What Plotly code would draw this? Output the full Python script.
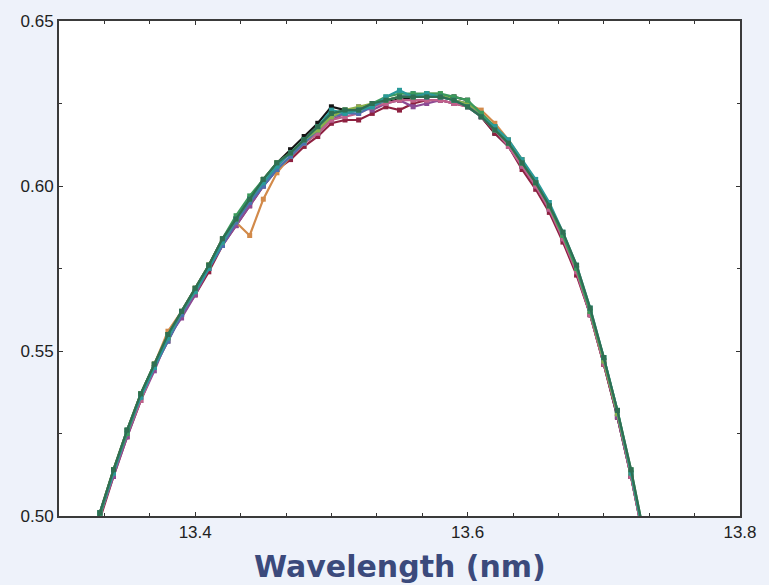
import plotly.graph_objects as go

wavelength = [13.32, 13.33, 13.34, 13.35, 13.36, 13.37, 13.38, 13.39, 13.40, 13.41,
              13.42, 13.43, 13.44, 13.45, 13.46, 13.47, 13.48, 13.49, 13.50, 13.51,
              13.52, 13.53, 13.54, 13.55, 13.56, 13.57, 13.58, 13.59, 13.60, 13.61,
              13.62, 13.63, 13.64, 13.65, 13.66, 13.67, 13.68, 13.69, 13.70, 13.71,
              13.72, 13.73, 13.74]

r_black = [0.488, 0.501, 0.514, 0.526, 0.537, 0.546, 0.555, 0.562, 0.569, 0.576,
           0.584, 0.590, 0.596, 0.602, 0.607, 0.611, 0.615, 0.619, 0.624, 0.623,
           0.623, 0.625, 0.626, 0.626, 0.627, 0.628, 0.627, 0.627, 0.626, 0.621,
           0.616, 0.612, 0.606, 0.600, 0.593, 0.584, 0.574, 0.561, 0.546, 0.530,
           0.512, 0.492, 0.471]
r_maroon = [0.486, 0.499, 0.512, 0.524, 0.535, 0.545, 0.553, 0.561, 0.567, 0.574,
            0.582, 0.588, 0.594, 0.600, 0.605, 0.608, 0.612, 0.615, 0.619, 0.620,
            0.620, 0.622, 0.624, 0.623, 0.625, 0.626, 0.626, 0.625, 0.624, 0.621,
            0.616, 0.612, 0.605, 0.599, 0.592, 0.583, 0.573, 0.561, 0.546, 0.530,
            0.512, 0.492, 0.471]
r_purple = [0.486, 0.500, 0.512, 0.524, 0.535, 0.544, 0.554, 0.560, 0.567, 0.575,
            0.582, 0.588, 0.594, 0.600, 0.605, 0.609, 0.613, 0.616, 0.620, 0.622,
            0.624, 0.623, 0.625, 0.626, 0.624, 0.625, 0.626, 0.625, 0.625, 0.621,
            0.617, 0.612, 0.606, 0.600, 0.593, 0.584, 0.574, 0.561, 0.547, 0.530,
            0.512, 0.492, 0.471]
r_pink = [0.487, 0.500, 0.513, 0.525, 0.535, 0.545, 0.554, 0.561, 0.568, 0.575,
          0.583, 0.589, 0.595, 0.601, 0.605, 0.609, 0.613, 0.616, 0.620, 0.621,
          0.622, 0.624, 0.625, 0.626, 0.626, 0.626, 0.626, 0.625, 0.624, 0.621,
          0.617, 0.612, 0.606, 0.600, 0.593, 0.584, 0.574, 0.561, 0.546, 0.531,
          0.512, 0.492, 0.471]
r_orange = [0.487, 0.500, 0.513, 0.525, 0.536, 0.546, 0.556, 0.562, 0.569, 0.576,
            0.584, 0.589, 0.585, 0.596, 0.604, 0.609, 0.613, 0.617, 0.621, 0.622,
            0.623, 0.624, 0.626, 0.627, 0.627, 0.628, 0.627, 0.626, 0.625, 0.623,
            0.619, 0.614, 0.608, 0.601, 0.594, 0.585, 0.575, 0.562, 0.547, 0.531,
            0.513, 0.493, 0.472]
r_blue = [0.487, 0.500, 0.513, 0.525, 0.536, 0.545, 0.553, 0.561, 0.568, 0.575,
          0.582, 0.589, 0.595, 0.600, 0.605, 0.609, 0.613, 0.617, 0.621, 0.622,
          0.622, 0.624, 0.626, 0.627, 0.628, 0.627, 0.627, 0.626, 0.625, 0.622,
          0.617, 0.613, 0.607, 0.601, 0.594, 0.585, 0.575, 0.562, 0.547, 0.531,
          0.513, 0.493, 0.472]
r_olive = [0.487, 0.501, 0.514, 0.526, 0.537, 0.546, 0.554, 0.562, 0.568, 0.576,
           0.583, 0.590, 0.596, 0.602, 0.607, 0.610, 0.614, 0.617, 0.621, 0.623,
           0.624, 0.625, 0.626, 0.627, 0.627, 0.628, 0.628, 0.626, 0.625, 0.622,
           0.617, 0.613, 0.607, 0.601, 0.594, 0.585, 0.575, 0.562, 0.547, 0.531,
           0.513, 0.493, 0.472]
r_green = [0.487, 0.500, 0.514, 0.525, 0.537, 0.546, 0.555, 0.562, 0.569, 0.576,
           0.584, 0.591, 0.597, 0.602, 0.607, 0.610, 0.614, 0.618, 0.622, 0.623,
           0.623, 0.625, 0.627, 0.628, 0.628, 0.628, 0.628, 0.627, 0.626, 0.622,
           0.618, 0.613, 0.607, 0.601, 0.594, 0.585, 0.575, 0.562, 0.548, 0.532,
           0.514, 0.494, 0.473]
r_teal = [0.488, 0.501, 0.513, 0.526, 0.536, 0.545, 0.554, 0.562, 0.568, 0.575,
          0.583, 0.590, 0.596, 0.601, 0.606, 0.610, 0.614, 0.618, 0.623, 0.622,
          0.623, 0.624, 0.627, 0.629, 0.627, 0.628, 0.627, 0.626, 0.624, 0.621,
          0.618, 0.614, 0.608, 0.602, 0.595, 0.586, 0.576, 0.563, 0.548, 0.532,
          0.513, 0.493, 0.472]
r_dkgreen = [0.488, 0.501, 0.514, 0.526, 0.537, 0.546, 0.555, 0.562, 0.569, 0.576,
             0.584, 0.590, 0.596, 0.602, 0.607, 0.610, 0.614, 0.618, 0.622, 0.623,
             0.623, 0.625, 0.626, 0.627, 0.627, 0.627, 0.627, 0.626, 0.624, 0.621,
             0.617, 0.613, 0.607, 0.601, 0.594, 0.586, 0.576, 0.563, 0.548, 0.532,
             0.514, 0.494, 0.473]

series = [
    ("run 1", r_black, "#151515"),
    ("run 2", r_maroon, "#8e2140"),
    ("run 3", r_purple, "#8c4a94"),
    ("run 4", r_pink, "#c0608a"),
    ("run 5", r_orange, "#d28a4a"),
    ("run 6", r_blue, "#4a72b0"),
    ("run 7", r_olive, "#8ab04a"),
    ("run 8", r_green, "#3c9a5c"),
    ("run 9", r_teal, "#2a9a9a"),
    ("run 10", r_dkgreen, "#2f6f52"),
]

fig = go.Figure()
for name, vals, col in series:
    fig.add_trace(go.Scatter(
        x=wavelength, y=vals, name=name, mode="lines+markers",
        line=dict(color=col, width=2.2),
        marker=dict(color=col, size=5, symbol="square"),
        cliponaxis=True,
    ))

axis_common = dict(
    showline=True, linecolor="#3a3a3a", linewidth=1.8, mirror="ticks",
    ticks="inside", ticklen=4, tickwidth=1, tickcolor="#333333",
    showgrid=False, zeroline=False,
    tickfont=dict(family="Liberation Sans, Arial, sans-serif", size=17, color="#222222"),
)

fig.update_xaxes(range=[13.3, 13.8], tick0=13.4, dtick=0.2, tickformat=".1f",
                 minor=dict(ticks="inside", ticklen=3, dtick=0.2 / 6, tick0=13.4,
                            tickcolor="#333333", showgrid=False),
                 **axis_common)
fig.update_yaxes(range=[0.50, 0.65], tick0=0.5, dtick=0.05, tickformat=".2f",
                 minor=dict(ticks="inside", ticklen=3, dtick=0.025, tick0=0.5,
                            tickcolor="#333333", showgrid=False),
                 **axis_common)

fig.add_annotation(
    text="<b>Wavelength (nm)</b>", xref="paper", yref="paper",
    x=0.5, y=-(567 - 516) / 497, xanchor="center", yanchor="middle",
    showarrow=False,
    font=dict(family="DejaVu Sans, sans-serif", size=30, color="#3b4a7c"),
)

fig.update_layout(
    width=769, height=585,
    margin=dict(l=59, r=21, t=19, b=69),
    paper_bgcolor="#eef2fa", plot_bgcolor="#ffffff",
    showlegend=False,
)

fig.write_html("out.html", config={"displayModeBar": False},
               post_script="document.body.style.margin='0';document.body.style.padding='0';")
